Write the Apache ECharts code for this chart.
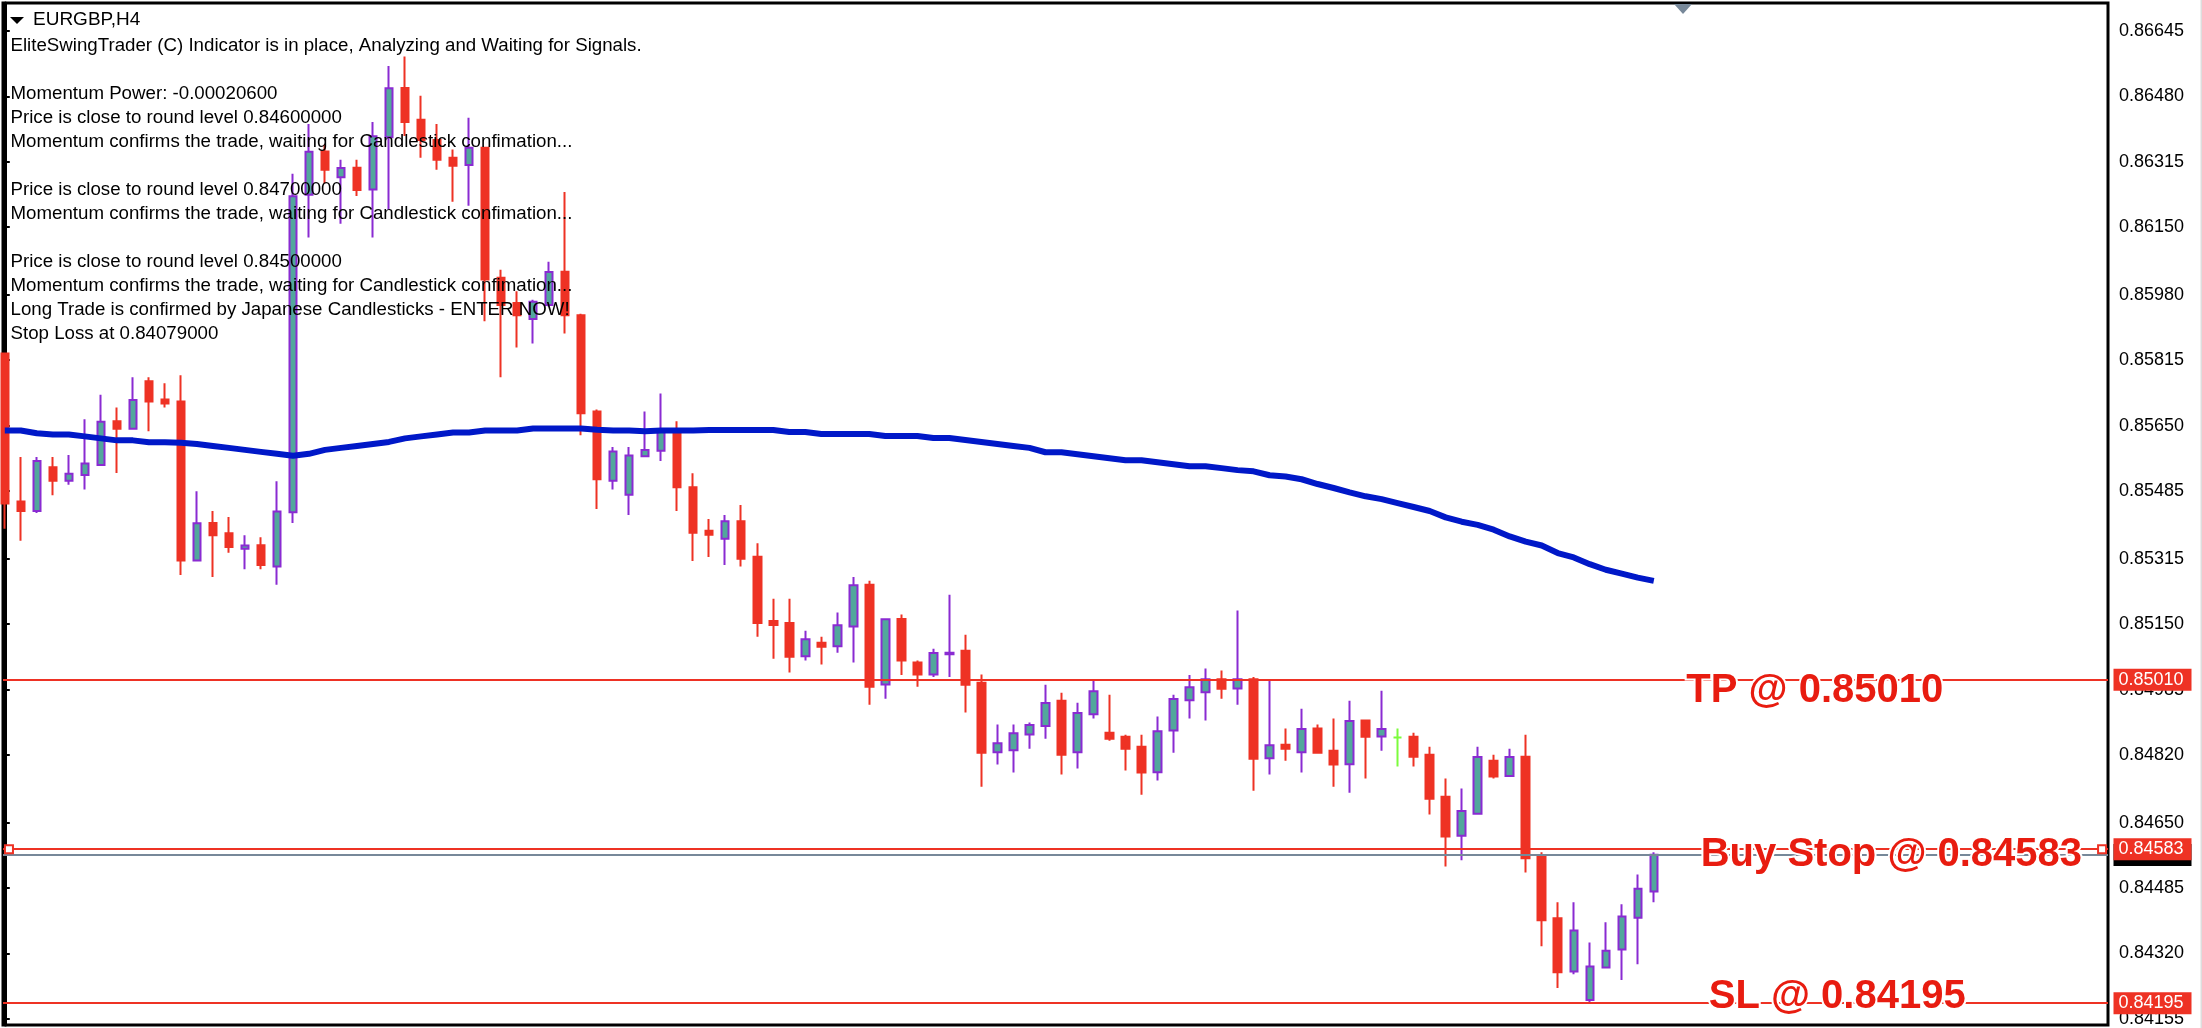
<!DOCTYPE html>
<html>
<head>
<meta charset="utf-8">
<title>EURGBP,H4</title>
<script src="https://cdn.jsdelivr.net/npm/echarts@6/dist/echarts.min.js"></script>
<style>
  html, body { margin: 0; padding: 0; background: #fff; }
  #chart { width: 2202px; height: 1028px; }
</style>
</head>
<body>
<div id="chart"></div>
<script>
const opens = [0.85832,0.85459,0.85435,0.85545,0.85511,0.85526,0.85551,0.85661,0.85642,0.85762,0.85716,0.85711,0.85310,0.85405,0.85379,0.85340,0.85349,0.85295,0.85432,0.86232,0.86341,0.86276,0.86300,0.86245,0.86377,0.86501,0.86421,0.86370,0.86325,0.86307,0.86350,0.86023,0.85959,0.85919,0.85954,0.86038,0.85928,0.85686,0.85511,0.85476,0.85573,0.85587,0.85638,0.85495,0.85385,0.85365,0.85409,0.85320,0.85158,0.85153,0.85069,0.85103,0.85094,0.85144,0.85249,0.84998,0.85163,0.85053,0.85023,0.85074,0.85083,0.85002,0.84827,0.84832,0.84872,0.84893,0.84957,0.84827,0.84923,0.84876,0.84866,0.84841,0.84777,0.84882,0.84958,0.84978,0.85011,0.84988,0.85011,0.84812,0.84846,0.84827,0.84887,0.84831,0.84797,0.84907,0.84867,0.84864,0.84866,0.84821,0.84715,0.84617,0.84672,0.84806,0.84767,0.84816,0.84565,0.84409,0.84275,0.84203,0.84285,0.84330,0.84410,0.84476];
const closes = [0.85454,0.85435,0.85561,0.85511,0.85529,0.85555,0.85660,0.85642,0.85715,0.85711,0.85706,0.85310,0.85404,0.85374,0.85344,0.85348,0.85299,0.85434,0.86228,0.86340,0.86295,0.86299,0.86244,0.86379,0.86500,0.86415,0.86370,0.86320,0.86305,0.86350,0.86018,0.85954,0.85928,0.85962,0.86037,0.85928,0.85681,0.85515,0.85585,0.85575,0.85589,0.85638,0.85495,0.85380,0.85375,0.85409,0.85315,0.85153,0.85148,0.85068,0.85112,0.85093,0.85147,0.85248,0.84992,0.85162,0.85058,0.85023,0.85077,0.85078,0.84997,0.84826,0.84850,0.84875,0.84896,0.84951,0.84821,0.84926,0.84981,0.84861,0.84836,0.84776,0.84880,0.84961,0.84991,0.85011,0.84987,0.85011,0.84811,0.84845,0.84836,0.84886,0.84826,0.84796,0.84906,0.84866,0.84886,0.84864,0.84816,0.84710,0.84615,0.84679,0.84815,0.84766,0.84815,0.84560,0.84404,0.84273,0.84378,0.84287,0.84327,0.84413,0.84483,0.84569];
const highs = [0.85832,0.85571,0.85571,0.85571,0.85576,0.85666,0.85728,0.85696,0.85772,0.85772,0.85757,0.85777,0.85485,0.85435,0.85420,0.85374,0.85369,0.85510,0.86285,0.86410,0.86358,0.86320,0.86320,0.86415,0.86556,0.86580,0.86481,0.86410,0.86346,0.86426,0.86350,0.86043,0.85989,0.85967,0.86063,0.86239,0.85932,0.85691,0.85596,0.85596,0.85686,0.85731,0.85661,0.85530,0.85415,0.85425,0.85450,0.85354,0.85214,0.85214,0.85133,0.85118,0.85179,0.85269,0.85259,0.85163,0.85174,0.85058,0.85088,0.85224,0.85123,0.85023,0.84897,0.84897,0.84902,0.84997,0.84977,0.84952,0.85007,0.84972,0.84871,0.84871,0.84917,0.84972,0.85022,0.85038,0.85033,0.85184,0.85017,0.85007,0.84887,0.84937,0.84897,0.84912,0.84957,0.84907,0.84982,0.84887,0.84876,0.84841,0.84761,0.84736,0.84841,0.84821,0.84836,0.84871,0.84575,0.84449,0.84449,0.84348,0.84399,0.84444,0.84519,0.84575];
const lows = [0.85390,0.85360,0.85430,0.85475,0.85501,0.85489,0.85551,0.85531,0.85642,0.85636,0.85696,0.85274,0.85310,0.85269,0.85330,0.85288,0.85288,0.85249,0.85405,0.86124,0.86260,0.86159,0.86229,0.86124,0.86195,0.86380,0.86325,0.86295,0.86214,0.86204,0.85913,0.85772,0.85847,0.85857,0.85950,0.85882,0.85626,0.85440,0.85489,0.85425,0.85573,0.85561,0.85435,0.85309,0.85319,0.85299,0.85295,0.85118,0.85063,0.85028,0.85058,0.85048,0.85078,0.85053,0.84947,0.84962,0.85022,0.84992,0.85017,0.85017,0.84927,0.84740,0.84796,0.84776,0.84836,0.84861,0.84771,0.84786,0.84912,0.84856,0.84781,0.84720,0.84756,0.84826,0.84912,0.84907,0.84962,0.84947,0.84730,0.84771,0.84806,0.84776,0.84826,0.84740,0.84725,0.84761,0.84831,0.84791,0.84791,0.84670,0.84539,0.84555,0.84672,0.84761,0.84767,0.84524,0.84338,0.84233,0.84268,0.84197,0.84285,0.84253,0.84293,0.84449];
const maValues = [0.85638,0.85638,0.85631,0.85628,0.85628,0.85623,0.85618,0.85613,0.85613,0.85608,0.85608,0.85607,0.85604,0.85599,0.85594,0.85589,0.85584,0.85579,0.85574,0.85579,0.85589,0.85594,0.85599,0.85604,0.85609,0.85618,0.85623,0.85628,0.85633,0.85633,0.85638,0.85638,0.85638,0.85643,0.85643,0.85643,0.85643,0.85640,0.85638,0.85638,0.85636,0.85638,0.85638,0.85638,0.85639,0.85639,0.85639,0.85639,0.85639,0.85634,0.85634,0.85629,0.85629,0.85629,0.85629,0.85624,0.85624,0.85624,0.85619,0.85619,0.85614,0.85609,0.85604,0.85599,0.85594,0.85583,0.85583,0.85578,0.85573,0.85568,0.85563,0.85563,0.85558,0.85553,0.85548,0.85548,0.85543,0.85538,0.85535,0.85525,0.85522,0.85515,0.85503,0.85493,0.85482,0.85472,0.85465,0.85455,0.85445,0.85435,0.85419,0.85408,0.85400,0.85388,0.85371,0.85358,0.85348,0.85329,0.85318,0.85301,0.85287,0.85277,0.85267,0.85259];
const priceTicks = [0.86645,0.86480,0.86315,0.86150,0.85980,0.85815,0.85650,0.85485,0.85315,0.85150,0.84985,0.84820,0.84650,0.84485,0.84320,0.84155];
const infoLines = [
  "EliteSwingTrader (C) Indicator is in place, Analyzing and Waiting for Signals.",
  "",
  "Momentum Power: -0.00020600",
  "Price is close to round level 0.84600000",
  "Momentum confirms the trade, waiting for Candlestick confimation...",
  "",
  "Price is close to round level 0.84700000",
  "Momentum confirms the trade, waiting for Candlestick confimation...",
  "",
  "Price is close to round level 0.84500000",
  "Momentum confirms the trade, waiting for Candlestick confimation...",
  "Long Trade is confirmed by Japanese Candlesticks - ENTER NOW!",
  "Stop Loss at 0.84079000"
];
const tpLevel = 0.85010, buyLevel = 0.84583, slLevel = 0.84195, lastPrice = 0.84568;

const RED = "#ee3224", TEXT_RED = "#e81c10", PURPLE = "#8a2bd2", TEAL = "#52a79c", BLUE = "#0018c8", GRAY = "#778899";
const FONT = '"Liberation Sans", Arial, sans-serif';
const xMin = -0.1124, xMax = 131.37;

const candles = opens.map((o, i) => [i, o, closes[i], lows[i], highs[i]]);
const ma = maValues.map((v, i) => [i, v]);

function levelLine(v, color, tagColor) {
  return {
    yAxis: v,
    lineStyle: { color, width: 2, type: "solid" },
    label: {
      show: true, position: "end", distance: 5.5, formatter: v.toFixed(5),
      color: "#fff", fontSize: 18, fontFamily: FONT, backgroundColor: tagColor,
      width: 68, height: 22, lineHeight: 22, padding: [0, 5, 0, 5], align: "left", verticalAlign: "middle"
    }
  };
}
function bigLabel(x, v, text, dy) {
  return {
    coord: [x, v],
    symbol: "circle", symbolSize: 1,
    itemStyle: { color: "rgba(0,0,0,0)", borderWidth: 0 },
    label: {
      show: true, position: "right", distance: 0, offset: [0, dy], formatter: text,
      color: TEXT_RED, fontSize: 40, fontWeight: "bold", fontFamily: FONT,
      textBorderColor: "#fff", textBorderWidth: 4
    }
  };
}
function handle(x) {
  return {
    coord: [x, buyLevel], symbol: "rect", symbolSize: 8,
    itemStyle: { color: "#fff", borderColor: RED, borderWidth: 2 },
    label: { show: false }
  };
}

const chart = echarts.init(document.getElementById("chart"), null, { renderer: "canvas" });
const info = [];
infoLines.forEach((t, i) => {
  if (t) info.push({ type: "text", z: 50, left: 10.5, top: 36.5 + i * 24,
    style: { text: t, fill: "#000", font: "18.7px " + FONT } });
});

chart.setOption({
  animation: false,
  backgroundColor: "#fff",
  grid: { left: 3, top: 3, right: 94, bottom: 1, show: true, borderColor: "#000", borderWidth: 3, backgroundColor: "#fff" },
  xAxis: { type: "value", min: xMin, max: xMax, show: false },
  yAxis: {
    type: "value", position: "right", min: 0.841396, max: 0.867150, scale: true,
    splitLine: { show: false },
    axisLine: { show: true, lineStyle: { color: "#000", width: 3 } },
    axisTick: { show: true, length: 5, inside: false, customValues: priceTicks, lineStyle: { color: "#000", width: 2 } },
    axisLabel: {
      show: true, customValues: priceTicks, margin: 11, color: "#000", fontSize: 18, fontFamily: FONT,
      formatter: v => v.toFixed(5), showMinLabel: true, showMaxLabel: true
    }
  },
  series: [
    {
      type: "candlestick", data: candles, barWidth: 8, clip: true, z: 2,
      itemStyle: {
        color: TEAL, color0: RED, borderColor: PURPLE, borderColor0: RED,
        borderColorDoji: "#7cfc3c", borderWidth: 2
      }
    },
    {
      type: "line", data: ma, showSymbol: false, symbol: "none", smooth: false, z: 3, clip: true,
      lineStyle: { color: BLUE, width: 6, join: "bevel" },
      markLine: {
        silent: true, symbol: "none", animation: false, precision: 5,
        data: [
          levelLine(lastPrice, GRAY, "#000"),
          levelLine(buyLevel, RED, RED),
          levelLine(tpLevel, RED, RED),
          levelLine(slLevel, RED, RED)
        ]
      },
      markPoint: {
        silent: true, animation: false,
        data: [
          bigLabel(105.0, tpLevel, "TP @ 0.85010", 11),
          bigLabel(105.9, buyLevel, "Buy Stop @ 0.84583", 6),
          bigLabel(106.4, slLevel, "SL @ 0.84195", -6),
          handle(0.26),
          handle(131.0)
        ]
      }
    }
  ],
  graphic: info.concat([
    { type: "polygon", z: 50, shape: { points: [[10, 17], [24, 17], [17, 24]] }, style: { fill: "#000" } },
    { type: "text", z: 50, left: 33, top: 10.5, style: { text: "EURGBP,H4", fill: "#000", font: "19px " + FONT } },
    { type: "polygon", z: 50, shape: { points: [[1674, 4], [1692, 4], [1683, 14]] }, style: { fill: GRAY } },
    { type: "rect", z: 50, shape: { x: 2200.5, y: 0, width: 1.5, height: 1028 }, style: { fill: "#dddddd" } }
  ])
});
</script>
</body>
</html>
